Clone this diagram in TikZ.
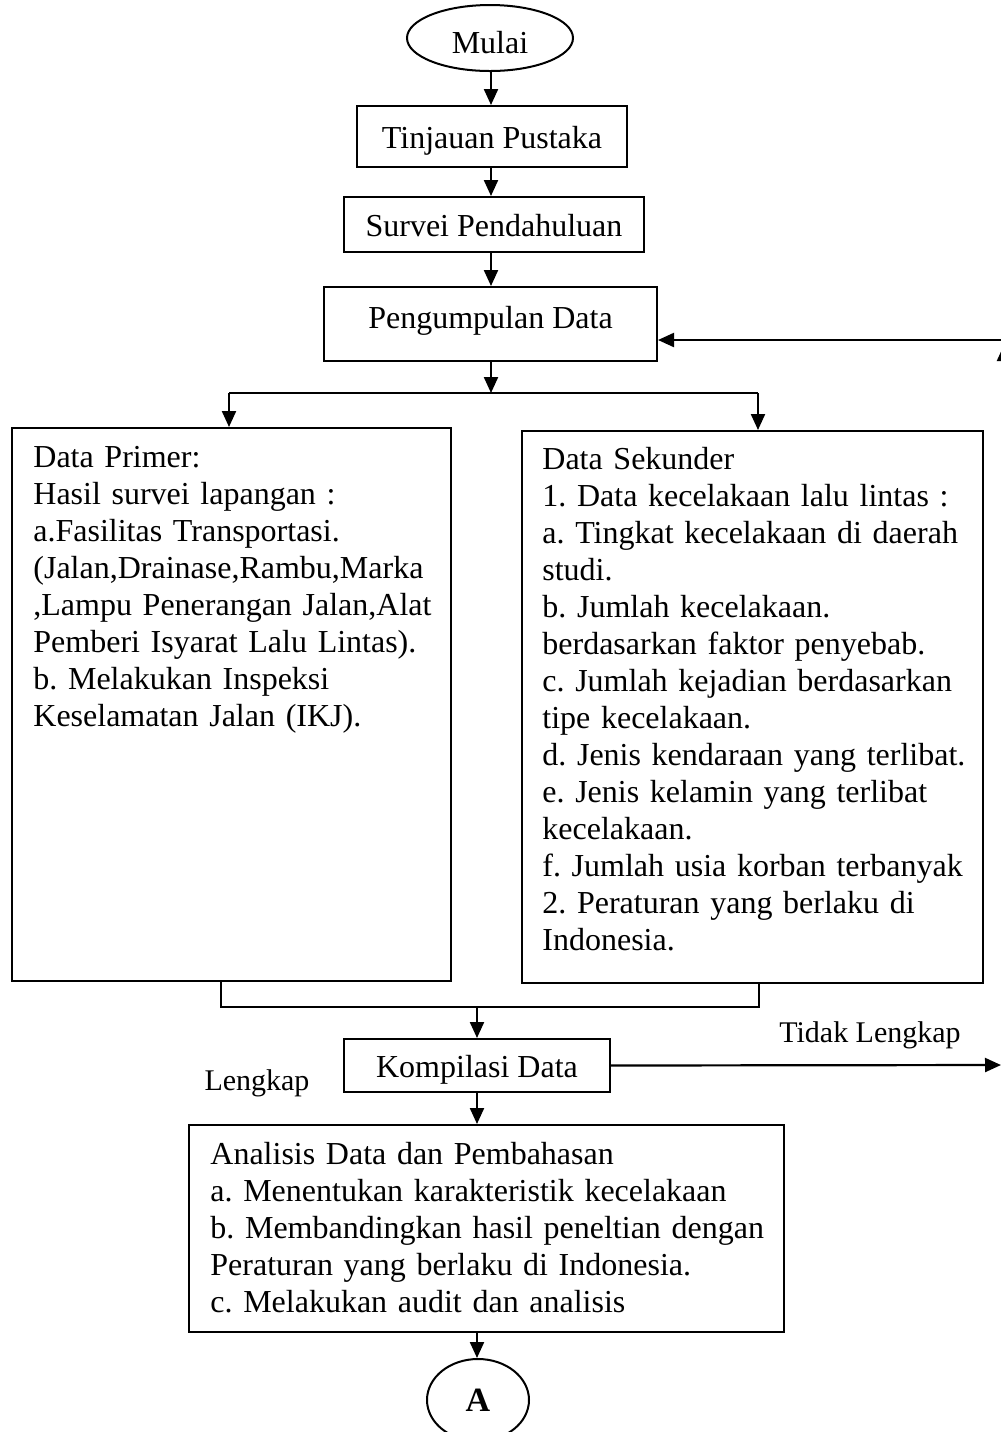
\documentclass[tikz,border=0pt]{standalone}
\usepackage{fontspec}
\setmainfont{Liberation Serif}
\usetikzlibrary{shapes.geometric,arrows.meta,calc}

\begin{document}
\frenchspacing
\begin{tikzpicture}[x=0.5pt,y=-0.5pt,
  every node/.style={font=\fontsize{16}{18.5}\selectfont},
  line/.style={line width=1.1pt},
  arrow/.style={line width=1.1pt,-{Triangle[length=8pt,width=7pt]}},
  term/.style={draw,line width=1pt,ellipse,inner sep=0pt},
  procbox/.style={draw,line width=1pt,rectangle,inner sep=0pt,text height=12pt,text depth=0pt},
  listbox/.style={draw,line width=1pt,rectangle,inner sep=0pt},
  listtext/.style={anchor=north west,align=left,inner sep=0pt},
  decision/.style={font=\fontsize{15}{18}\selectfont}
]
\useasboundingbox (0,0) rectangle (1001,1432);
\clip (0,0) rectangle (1001,1432);

%Shape: Ellipse [Mulai]
\node[term,minimum width=83pt,minimum height=33pt,text height=15pt,text depth=0pt] (mulai) at (490,38) {Mulai};
%Shape: Rectangle [Tinjauan]
\node[procbox,minimum width=135pt,minimum height=30.5pt] (tinjauan) at (492,136.5) {Tinjauan Pustaka};
%Shape: Rectangle [Survei]
\node[procbox,minimum width=150pt,minimum height=27.5pt] (survei) at (494,224.5) {Survei Pendahuluan};
%Shape: Rectangle [Pengumpulan]
\node[procbox,minimum width=166.5pt,minimum height=37pt,text height=4pt] (pengumpulan) at (490.5,324) {Pengumpulan Data};

%Shape: Rectangle [Data Primer]
\node[listbox,minimum width=219.5pt,minimum height=276.5pt] (primer) at (231.5,704.5) {};
% Text Node
\node[listtext,text width=215pt] (primer text) at ($(primer.north west)+(22,0)$) {\rule{0pt}{20pt}Data Primer:\\
Hasil survei lapangan :\\
a.Fasilitas Transportasi.\\
(Jalan,Drainase,Rambu,Marka\\
,Lampu Penerangan Jalan,Alat\\
Pemberi Isyarat Lalu Lintas).\\
b. Melakukan Inspeksi\\
Keselamatan Jalan (IKJ).};

%Shape: Rectangle [Data Sekunder]
\node[listbox,minimum width=230.5pt,minimum height=276pt] (sekunder) at (752.5,707) {};
% Text Node
\node[listtext,text width=225pt] (sekunder text) at ($(sekunder.north west)+(21,0)$) {\rule{0pt}{19.5pt}Data Sekunder\\
1. Data kecelakaan lalu lintas :\\
a. Tingkat kecelakaan di daerah\\
studi.\\
b. Jumlah kecelakaan.\\
berdasarkan faktor penyebab.\\
c. Jumlah kejadian berdasarkan\\
tipe kecelakaan.\\
d. Jenis kendaraan yang terlibat.\\
e. Jenis kelamin yang terlibat\\
kecelakaan.\\
f. Jumlah usia korban terbanyak\\
2. Peraturan yang berlaku di\\
Indonesia.};

%Shape: Rectangle [Kompilasi]
\node[procbox,minimum width=133pt,minimum height=26.5pt] (kompilasi) at (477,1065.5) {Kompilasi Data};

%Shape: Rectangle [Analisis]
\node[listbox,minimum width=297.5pt,minimum height=103.5pt] (analisis) at (486.5,1228.5) {};
% Text Node
\node[listtext,text width=290pt] (analisis text) at ($(analisis.north west)+(22,0)$) {\rule{0pt}{20pt}Analisis Data dan Pembahasan\\
a. Menentukan karakteristik kecelakaan\\
b. Membandingkan hasil peneltian dengan\\
Peraturan yang berlaku di Indonesia.\\
c. Melakukan audit dan analisis};

%Shape: Ellipse [A]
\node[term,minimum width=51pt,minimum height=41pt,font=\bfseries\fontsize{17}{20}\selectfont] (a) at (478,1400) {A};

% Text Node
\node[decision] (lengkap) at (257,1083) {Lengkap};
% Text Node
\node[decision] (tidak) at (870,1035) {Tidak Lengkap};

\coordinate (spine) at (491,0);
\coordinate (split) at (491,393);
\coordinate (split left) at (229,393);
\coordinate (split right) at (758,393);
\coordinate (merge) at (477,1007);
\coordinate (merge left) at (221,1007);
\coordinate (merge right) at (759,1007);
\coordinate (edge) at (1001,1065);
\coordinate (loop) at (1004,340);

%Straight Lines
\draw[arrow] (spine |- mulai.south) -- (spine |- tinjauan.north);
\draw[arrow] (spine |- tinjauan.south) -- (spine |- survei.north);
\draw[arrow] (spine |- survei.south) -- (spine |- pengumpulan.north);
\draw[arrow] (spine |- pengumpulan.south) -- (split);
\draw[line] (split left) -- (split right);
\draw[arrow] (split left) -- (split left |- primer.north);
\draw[arrow] (split right) -- (split right |- sekunder.north);
%Straight Lines
\draw[line] (merge left |- primer.south) -- (merge left) -- (merge right) -- (merge right |- sekunder.south);
\draw[arrow] (merge) -- (merge |- kompilasi.north);
\draw[arrow] (merge |- kompilasi.south) -- (merge |- analisis.north);
\draw[arrow] (merge |- analisis.south) -- (merge |- a.north);
%Straight Lines
\draw[arrow] (kompilasi.east) -- (edge);
\draw[arrow] (edge -| loop) -- ($(loop)+(0,5)$);
\draw[arrow] (loop) -- (loop -| pengumpulan.east);

\end{tikzpicture}
\end{document}
